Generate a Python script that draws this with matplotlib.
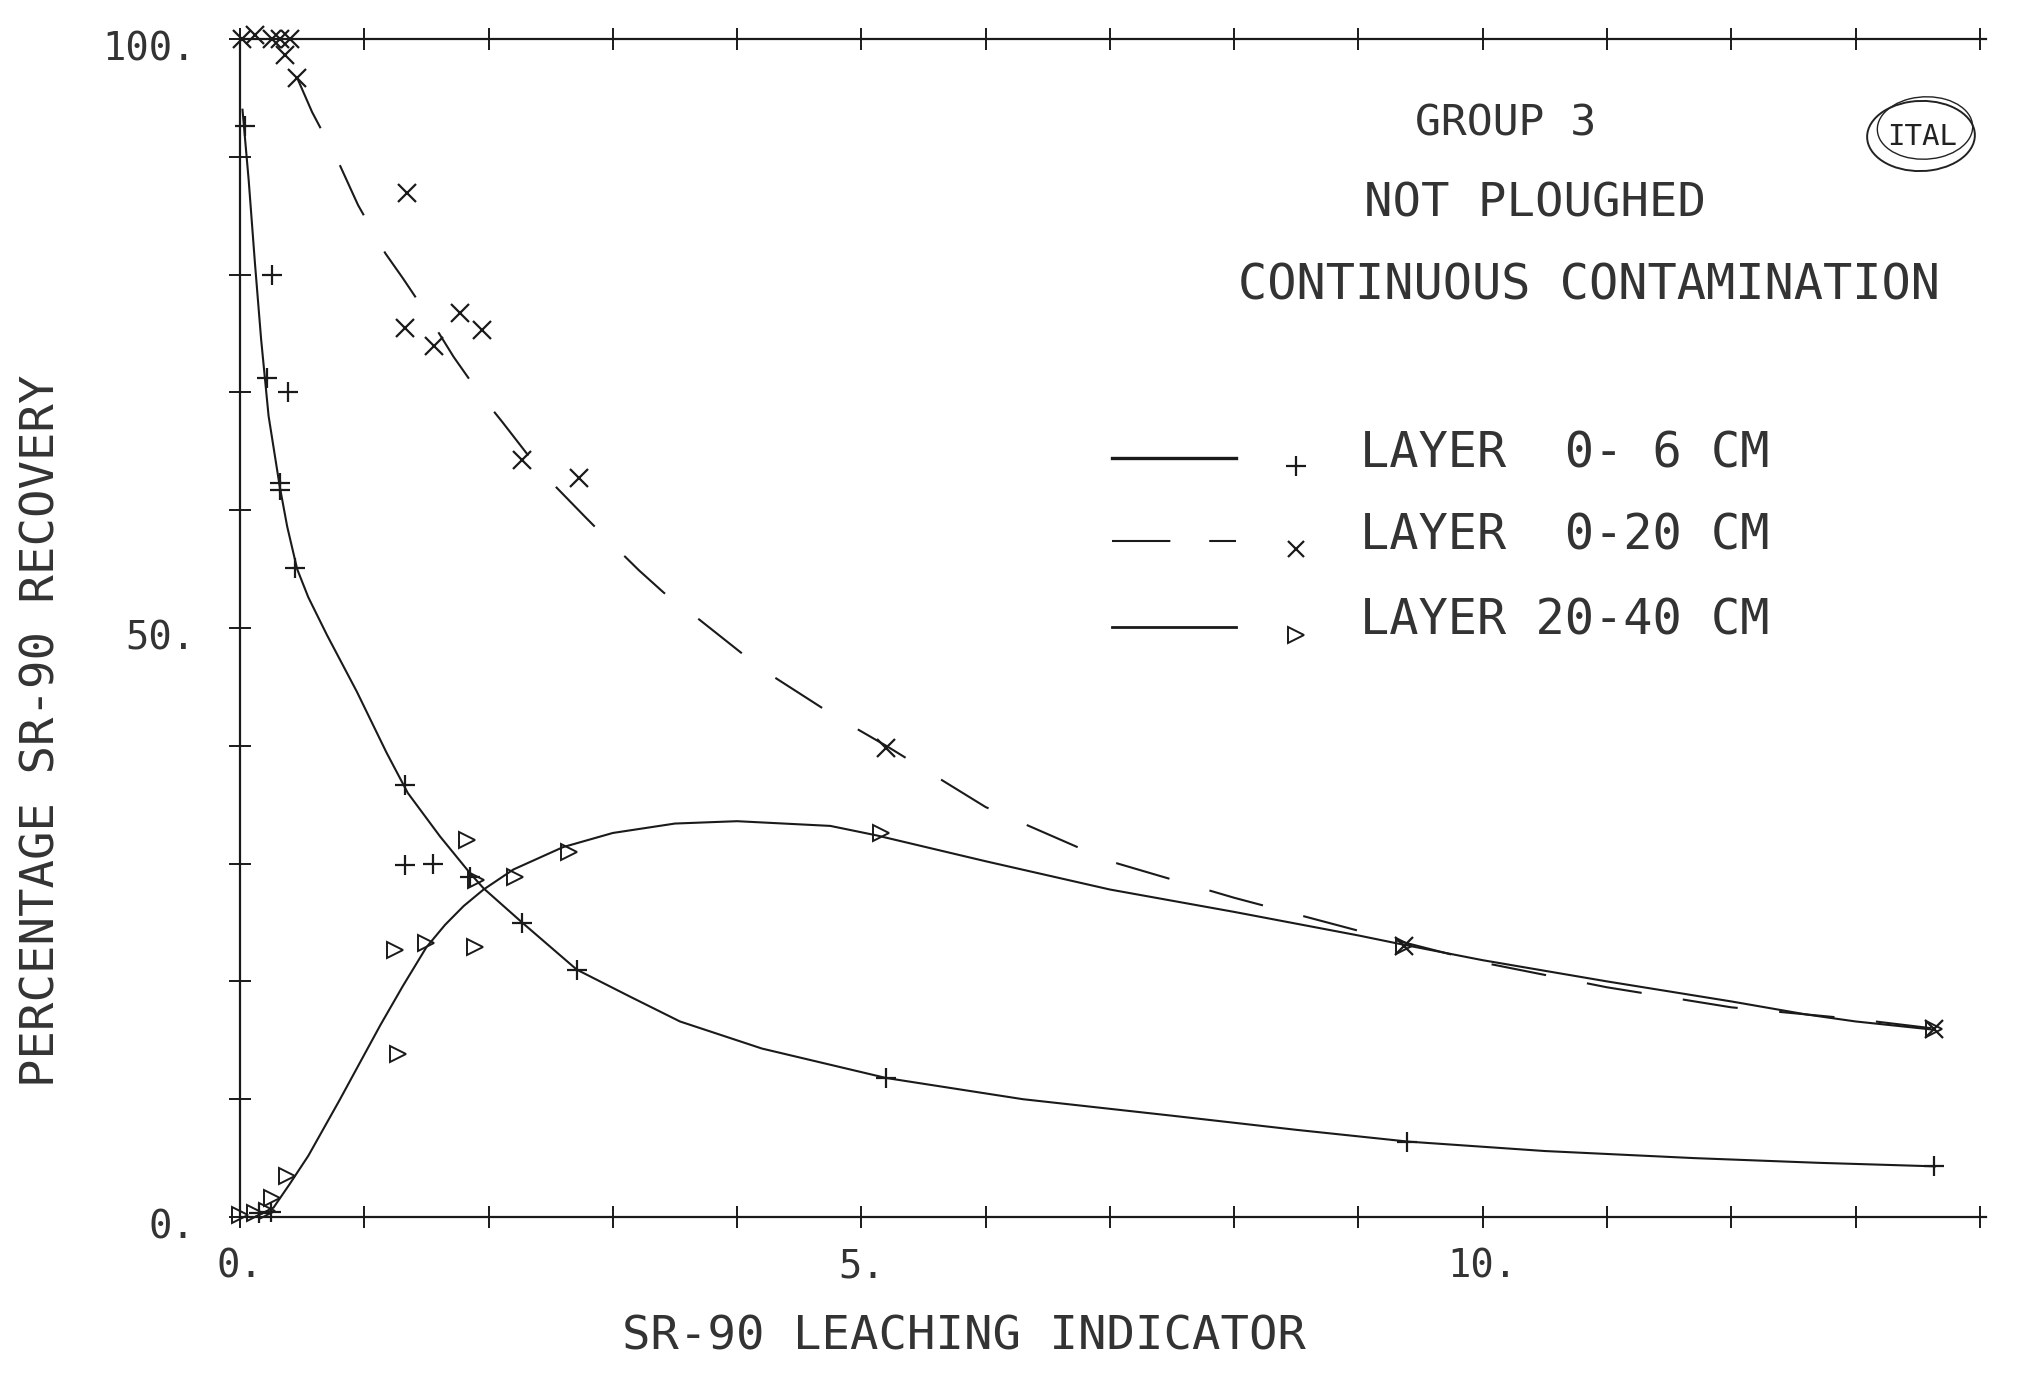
import matplotlib
matplotlib.use('Agg')
import matplotlib.pyplot as plt
from matplotlib.patches import Ellipse
from matplotlib.lines import Line2D
from matplotlib.transforms import ScaledTranslation

plt.rcParams['font.family'] = ['DejaVu Sans Mono', 'DejaVu Sans']
plt.rcParams['lines.scale_dashes'] = False

# ---------------- data ----------------
# measured points, layer 0-6 cm (+)
x06 = [0.04, 0.22, 0.26, 0.32, 0.32, 0.39, 0.44, 1.33, 1.33, 1.55, 1.85,
       2.27, 2.71, 5.20, 9.39, 13.63, 0.15, 0.25]
y06 = [92.6, 71.2, 80.0, 62.3, 61.7, 70.0, 55.1, 36.7, 29.9, 30.0, 28.9,
       25.0, 21.0, 11.8, 6.4, 4.3, 0.3, 0.4]

# measured points, layer 0-20 cm (x)
x020 = [0.02, 0.12, 0.26, 0.32, 0.40, 0.36, 0.46, 1.34, 1.33, 1.56, 1.77,
        1.95, 2.27, 2.73, 5.20, 9.37, 13.63]
y020 = [100.0, 100.3, 100.0, 100.0, 100.0, 98.6, 96.7, 86.9, 75.5, 73.9, 76.7,
        75.3, 64.3, 62.7, 39.8, 23.0, 16.0]

# measured points, layer 20-40 cm (triangles)
x2040 = [0.00, 0.12, 0.22, 0.26, 0.38, 1.27, 1.25, 1.50, 1.89, 1.83, 1.90,
         2.21, 2.65, 5.16, 9.37, 13.63]
y2040 = [0.2, 0.3, 0.5, 1.6, 3.5, 13.8, 22.7, 23.3, 22.9, 32.0, 28.6,
         28.9, 31.0, 32.6, 23.0, 16.0]

# drawn curves
c06_x = [0.02, 0.07, 0.12, 0.17, 0.23, 0.32, 0.38, 0.46, 0.55, 0.70, 0.82,
         0.94, 1.06, 1.18, 1.35, 1.61, 1.85, 1.96, 2.27, 2.71, 3.14, 3.54,
         4.20, 5.20, 6.30, 7.50, 8.50, 9.40, 10.50, 11.70, 12.70, 13.64]
c06_y = [94.0, 88.0, 81.0, 74.5, 68.0, 62.0, 58.6, 55.0, 52.6, 49.4, 47.0,
         44.6, 42.0, 39.4, 36.0, 32.3, 29.2, 27.9, 25.0, 21.0, 18.7, 16.6,
         14.3, 11.8, 10.0, 8.6, 7.4, 6.4, 5.6, 5.0, 4.6, 4.3]

c020_x = [0.46, 0.58, 0.79, 0.95, 1.17, 1.31, 1.52, 1.72, 1.92, 2.11, 2.36,
          2.54, 2.78, 2.94, 3.21, 3.41, 3.65, 4.20, 4.79, 5.20, 6.00, 7.00,
          8.00, 9.00, 10.00, 11.00, 12.00, 13.00, 13.63]
c020_y = [96.7, 93.8, 89.6, 85.9, 81.8, 79.7, 76.4, 73.0, 70.0, 67.5, 64.1,
          62.0, 59.4, 57.7, 54.9, 53.0, 51.1, 46.5, 42.5, 40.0, 34.8, 30.2,
          27.1, 24.3, 21.6, 19.5, 17.8, 16.8, 16.0]

c2040_x = [0.12, 0.27, 0.40, 0.55, 0.80, 0.97, 1.13, 1.31, 1.50, 1.65, 1.80,
           1.96, 2.20, 2.60, 3.00, 3.50, 4.00, 4.75, 5.12, 6.00, 7.00, 8.00,
           9.00, 9.37, 10.00, 11.00, 12.00, 12.60, 13.00, 13.63]
c2040_y = [0.0, 0.8, 2.8, 5.2, 9.9, 13.2, 16.3, 19.6, 22.9, 24.8, 26.4,
           27.8, 29.5, 31.4, 32.6, 33.4, 33.6, 33.2, 32.4, 30.2, 27.8, 25.9,
           23.9, 23.1, 21.8, 20.0, 18.3, 17.2, 16.6, 15.9]

x_ticks = list(range(0, 15))
x_ticklabels = {0: '0.', 5: '5.', 10: '10.'}
y_ticks = list(range(0, 101, 10))
y_ticklabels = {0: '0.', 50: '50.', 100: '100.'}

legend_labels = ['LAYER  0- 6 CM', 'LAYER  0-20 CM', 'LAYER 20-40 CM']

# ---------------- figure ----------------
W, H = 2040, 1400
fig = plt.figure(figsize=(W / 100, H / 100), dpi=100)
fig.patch.set_facecolor('white')
ax = fig.add_axes([240 / W, 183 / H, (1986 - 240) / W, (1217 - 39) / H])
ax.set_facecolor('none')
ink = '#1a1a1a'
txt = '#333333'

ax.set_xlim(0, 14.05)
ax.set_ylim(0, 100)

ax.plot(c06_x, c06_y, '-', color=ink, lw=1.5)
ax.plot(c020_x, c020_y, '-', color=ink, lw=1.5, dashes=(40, 30))
ax.plot(c2040_x, c2040_y, '-', color=ink, lw=1.5)

ax.plot(x06, y06, ls='none', marker='+', ms=15, mew=1.6, color=ink, clip_on=False)
ax.plot(x020, y020, ls='none', marker='x', ms=13, mew=1.6, color=ink, clip_on=False)
ax.plot(x2040, y2040, ls='none', marker='>', ms=11, mew=1.4, mfc='none',
        mec=ink, clip_on=False)

for s in ['left', 'bottom', 'top']:
    ax.spines[s].set_linewidth(1.6)
    ax.spines[s].set_color(ink)
ax.spines['right'].set_visible(False)

ax.set_xticks(x_ticks)
ax.set_xticklabels([x_ticklabels.get(t, '') for t in x_ticks])
ax.set_yticks(y_ticks)
ax.set_yticklabels([y_ticklabels.get(t, '') for t in y_ticks])
ax.tick_params(axis='x', direction='inout', length=16, width=1.4, color=ink,
               top=True, labeltop=False, labelsize=28, pad=14, labelcolor=txt)
ax.tick_params(axis='y', direction='inout', length=16, width=1.4, color=ink,
               right=False, labelsize=28, pad=24, labelcolor=txt)
shift = ScaledTranslation(0, -5 / 72, fig.dpi_scale_trans)
for lab in ax.get_yticklabels():
    lab.set_transform(lab.get_transform() + shift)

# axis titles
fig.text(964 / W, 1 - 1337 / H, 'SR-90 LEACHING INDICATOR', ha='center', va='center',
         fontsize=34, color=txt)
fig.text(42 / W, 1 - 731 / H, 'PERCENTAGE SR-90 RECOVERY', ha='center', va='center',
         rotation=90, fontsize=34, color=txt)

# header texts
fig.text(1506 / W, 1 - 124 / H, 'GROUP 3', ha='center', va='center',
         fontsize=31, color=txt)
fig.text(1535 / W, 1 - 204 / H, 'NOT PLOUGHED', ha='center', va='center',
         fontsize=34, color=txt)
fig.text(1589 / W, 1 - 286 / H, 'CONTINUOUS CONTAMINATION', ha='center', va='center',
         fontsize=35, color=txt)

# ITAL logo
fig.text(1922 / W, 1 - 137 / H, 'ITAL', ha='center', va='center',
         fontsize=21, color='#222222')
fig.add_artist(Ellipse((1921 / W, 1 - 136 / H), 108 / W, 70 / H, angle=12,
                       transform=fig.transFigure, fill=False, ec='#222222', lw=1.4))
fig.add_artist(Ellipse((1925 / W, 1 - 128 / H), 96 / W, 62 / H, angle=20,
                       transform=fig.transFigure, fill=False, ec='#222222', lw=1.0))

# legend (drawn by hand to match the plotter layout)
rows_y = [458, 541, 627]
text_y = [454, 536, 621]
mark_y = [466, 549, 635]
styles = [dict(ls='-', lw=2.4), dict(ls='-', lw=1.5, dashes=(42, 28)), dict(ls='-', lw=2.0)]
markers = [dict(marker='+', ms=15, mew=1.6, mfc=ink),
           dict(marker='x', ms=11, mew=1.6, mfc=ink),
           dict(marker='>', ms=11, mew=1.4, mfc='none')]
for i in range(3):
    fig.add_artist(Line2D([1112 / W, 1236 / W], [1 - rows_y[i] / H] * 2,
                          color=ink, transform=fig.transFigure, **styles[i]))
    fig.add_artist(Line2D([1296 / W], [1 - mark_y[i] / H], ls='none', color=ink,
                          mec=ink, transform=fig.transFigure, **markers[i]))
    fig.text(1360 / W, 1 - text_y[i] / H, legend_labels[i], ha='left', va='center',
             fontsize=35, color=txt)

fig.savefig('out.png', dpi=100)
